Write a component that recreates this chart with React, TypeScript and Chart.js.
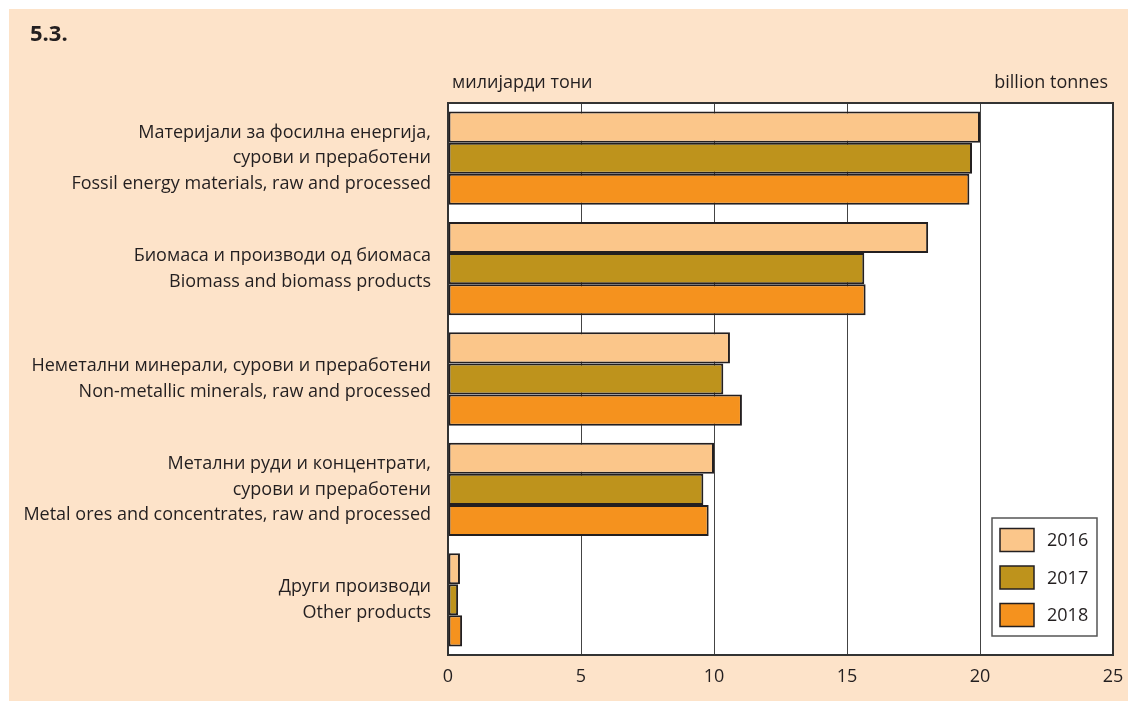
import React, { useEffect, useRef } from "react";
import { Chart, registerables } from "chart.js";

Chart.register(...registerables);

const categories: string[][] = [
  ["Материјали за фосилна енергија,", "сурови и преработени", "Fossil energy materials, raw and processed"],
  ["Биомаса и производи од биомаса", "Biomass and biomass products"],
  ["Неметални минерали, сурови и преработени", "Non-metallic minerals, raw and processed"],
  ["Метални руди и концентрати,", "сурови и преработени", "Metal ores and concentrates, raw and processed"],
  ["Други производи", "Other products"],
];

const years = ["2016", "2017", "2018"];
const values2016 = [20.0, 18.05, 10.6, 10.0, 0.45];
const values2017 = [19.7, 15.65, 10.35, 9.6, 0.38];
const values2018 = [19.6, 15.7, 11.05, 9.8, 0.53];
const xTicks = [0, 5, 10, 15, 20, 25];

const title = "5.3.";
const unitLeft = "милијарди тони";
const unitRight = "billion tonnes";

const colors = ["#FBC68A", "#BE931C", "#F5921E"];
const BG = "#FDE3C9";
const TEXT = "#231F20";
const FONT = "'Open Sans', sans-serif";

const W = 1120;
const H = 693;

export default function App() {
  const ref = useRef<HTMLCanvasElement | null>(null);

  useEffect(() => {
    document.documentElement.style.overflow = "hidden";
    document.body.style.overflow = "hidden";
    const canvas = ref.current!;
    const bgPlugin = {
      id: "bgPlugin",
      beforeDraw(chart: any) {
        const ctx = chart.ctx;
        ctx.save();
        ctx.fillStyle = BG;
        ctx.fillRect(1, 1, chart.width, chart.height);
        const a = chart.chartArea;
        ctx.fillStyle = "#ffffff";
        ctx.fillRect(a.left, a.top, a.right - a.left, a.bottom - a.top);
        ctx.restore();
      },
      afterDraw(chart: any) {
        const ctx = chart.ctx;
        const a = chart.chartArea;
        ctx.save();
        ctx.strokeStyle = "#333333";
        ctx.lineWidth = 2;
        ctx.strokeRect(a.left, a.top, a.right - a.left, a.bottom - a.top);
        // title
        ctx.fillStyle = TEXT;
        ctx.textBaseline = "middle";
        ctx.font = `bold 22px ${FONT}`;
        ctx.textAlign = "left";
        ctx.fillText(title, 22, 27);
        ctx.font = `18px ${FONT}`;
        ctx.fillText(unitLeft, a.left + 4, 75);
        ctx.textAlign = "right";
        ctx.fillText(unitRight, a.right - 5, 75);
        // legend
        const lw = 105, lh = 118;
        const lx = a.right - 16 - lw;
        const ly = a.bottom - 19 - lh;
        ctx.fillStyle = "#ffffff";
        ctx.fillRect(lx, ly, lw, lh);
        ctx.strokeStyle = "#555555";
        ctx.lineWidth = 1.5;
        ctx.strokeRect(lx, ly, lw, lh);
        years.forEach((y, i) => {
          const cy = ly + 22 + i * 37.5;
          ctx.fillStyle = colors[i];
          ctx.fillRect(lx + 8, cy - 11.5, 34, 23);
          ctx.strokeStyle = "#231F20";
          ctx.lineWidth = 1.5;
          ctx.strokeRect(lx + 8, cy - 11.5, 34, 23);
          ctx.fillStyle = TEXT;
          ctx.textAlign = "left";
          ctx.font = `18px ${FONT}`;
          ctx.fillText(y, lx + 55, cy + 1);
        });
        ctx.restore();
      },
    };

    const mk = (label: string, data: number[], i: number) => ({
      label,
      data,
      backgroundColor: colors[i],
      borderColor: "#231F20",
      borderWidth: 2,
      borderSkipped: false,
      categoryPercentage: 0.845,
      barPercentage: 1.0,
    });

    const chart = new Chart(canvas, {
      type: "bar",
      data: {
        labels: categories as any,
        datasets: [mk(years[0], values2016, 0), mk(years[1], values2017, 1), mk(years[2], values2018, 2)],
      },
      plugins: [bgPlugin],
      options: {
        indexAxis: "y",
        animation: false,
        responsive: true,
        maintainAspectRatio: false,
        devicePixelRatio: 1,
        layout: { padding: { left: 0, right: 15, top: 95, bottom: 0 } },
        plugins: { legend: { display: false }, tooltip: { enabled: false } },
        scales: {
          x: {
            min: 0,
            max: 25,
            afterBuildTicks(scale: any) {
              scale.ticks = xTicks.map((v) => ({ value: v }));
            },
            afterFit(scale: any) {
              scale.height = 46;
              scale.paddingLeft = 0;
              scale.paddingRight = 0;
            },
            ticks: {
              color: TEXT,
              font: { family: FONT, size: 18 },
              padding: 11,
              maxRotation: 0,
            },
            grid: {
              drawTicks: false,
              color: (c: any) => (c.tick && (c.tick.value === 0 || c.tick.value === 25) ? "rgba(0,0,0,0)" : "#444444"),
              lineWidth: 1,
            },
            border: { display: false },
          },
          y: {
            afterFit(scale: any) {
              scale.width = 440;
              scale.paddingTop = 0;
              scale.paddingBottom = 0;
            },
            ticks: {
              color: TEXT,
              font: { family: FONT, size: 18, lineHeight: 1.42 },
              padding: 17,
              autoSkip: false,
            },
            grid: { display: false, drawTicks: false },
            border: { display: false },
          },
        },
      },
    });
    return () => chart.destroy();
  }, []);

  return (
    <div style={{ position: "absolute", left: 8, top: 8, width: W, height: H }}>
      <canvas ref={ref} style={{ display: "block" }} />
    </div>
  );
}
